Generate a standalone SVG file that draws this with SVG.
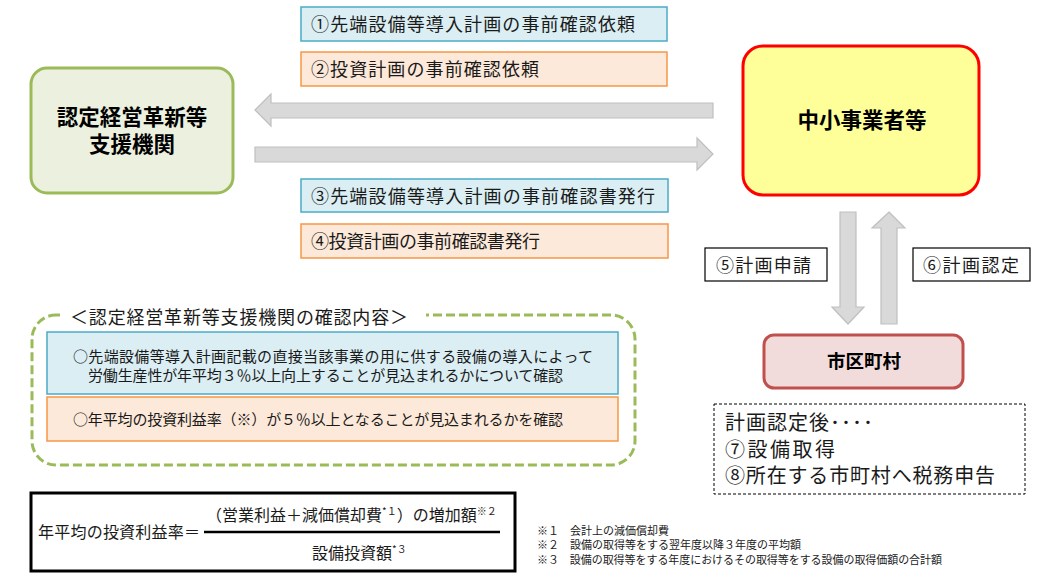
<svg xmlns="http://www.w3.org/2000/svg" width="1055" height="581" viewBox="0 0 1055 581">
<style>
text{font-family:"Noto Sans CJK JP","Noto Sans CJK SC",sans-serif;fill:#1a1a1a}
.b{font-weight:bold;fill:#000}
.blue{fill:#DAEEF3;stroke:#4BACC6;stroke-width:1.5}
.orange{fill:#FDE9D9;stroke:#F79646;stroke-width:1.5}
.arrow{fill:#D9D9D9;stroke:#BFBFBF;stroke-width:1.2}
.lbl{font-size:18px}
.plain{fill:#fff;stroke:#000;stroke-width:1.2}
</style>
<rect width="1055" height="581" fill="#fff"/>

<g id="connectors">
  <polygon class="arrow" points="255,110 271,94 271,103 713,103 713,118 271,118 271,126"/>
  <polygon class="arrow" points="255,147 697,147 697,138 713,154 697,170 697,162 255,162"/>
  <polygon class="arrow" points="840,212 856,212 856,307 864,307 848,324 832,307 840,307"/>
  <polygon class="arrow" points="889,212 905,228 897,228 897,324 881,324 881,228 872,228"/>
</g>

<g id="node-shien">
  <rect x="31" y="68" width="202" height="125" rx="16" fill="#EBF1DE" stroke="#9BBB59" stroke-width="3"/>
  <text class="b" font-size="21.5" text-anchor="middle"><tspan x="132" y="125">認定経営革新等</tspan><tspan x="132" y="152">支援機関</tspan></text>
</g>

<g id="node-chusho">
  <rect x="743" y="46" width="236" height="149" rx="20" fill="#FFFF99" stroke="#FF0000" stroke-width="3"/>
  <text class="b" x="862" y="128" font-size="21.5" text-anchor="middle">中小事業者等</text>
</g>

<g id="node-shiku">
  <rect x="764" y="335" width="199" height="53" rx="10" fill="#F2DCDB" stroke="#C0504D" stroke-width="3"/>
  <text class="b" x="864" y="368" font-size="18.5" text-anchor="middle">市区町村</text>
</g>

<g id="label-1">
  <rect class="blue" x="301" y="7" width="366" height="34"/>
  <text class="lbl" x="311" y="31" textLength="324" lengthAdjust="spacing">①先端設備等導入計画の事前確認依頼</text>
</g>
<g id="label-2">
  <rect class="orange" x="301" y="52" width="366" height="34"/>
  <text class="lbl" x="311" y="76" textLength="228" lengthAdjust="spacing">②投資計画の事前確認依頼</text>
</g>
<g id="label-3">
  <rect class="blue" x="301" y="179" width="367" height="33"/>
  <text class="lbl" x="311" y="203" textLength="344" lengthAdjust="spacing">③先端設備等導入計画の事前確認書発行</text>
</g>
<g id="label-4">
  <rect class="orange" x="301" y="224" width="367" height="34"/>
  <text class="lbl" x="311" y="248" textLength="229" lengthAdjust="spacing">④投資計画の事前確認書発行</text>
</g>

<g id="label-5">
  <rect class="plain" x="705" y="248" width="122" height="33"/>
  <text class="lbl" x="716" y="272" textLength="95" lengthAdjust="spacing">⑤計画申請</text>
</g>
<g id="label-6">
  <rect class="plain" x="913" y="248" width="117" height="33"/>
  <text class="lbl" x="923" y="272" textLength="96" lengthAdjust="spacing">⑥計画認定</text>
</g>

<g id="after-note">
  <rect x="714" y="404" width="311" height="90" fill="none" stroke="#000" stroke-width="1" stroke-dasharray="3,2"/>
  <text font-size="20"><tspan x="725" y="430" textLength="148" lengthAdjust="spacing">計画認定後････</tspan><tspan x="725" y="457" textLength="110" lengthAdjust="spacing">⑦設備取得</tspan><tspan x="725" y="483" textLength="270" lengthAdjust="spacing">⑧所在する市町村へ税務申告</tspan></text>
</g>

<g id="confirm-group">
  <rect x="32" y="315" width="603" height="150" rx="24" fill="none" stroke="#9BBB59" stroke-width="3" stroke-dasharray="9,4"/>
  <rect x="60" y="305" width="366" height="22" fill="#fff"/>
  <text x="70" y="324" font-size="18" textLength="338" lengthAdjust="spacing">＜認定経営革新等支援機関の確認内容＞</text>
  <rect class="blue" x="47" y="332" width="571" height="62"/>
  <text font-size="15"><tspan x="73" y="362" textLength="520" lengthAdjust="spacing">○先端設備等導入計画記載の直接当該事業の用に供する設備の導入によって</tspan><tspan x="88" y="381" textLength="475" lengthAdjust="spacing">労働生産性が年平均３％以上向上することが見込まれるかについて確認</tspan></text>
  <rect class="orange" x="47" y="397" width="571" height="44"/>
  <text x="73" y="425" font-size="15" textLength="490" lengthAdjust="spacing">○年平均の投資利益率（※）が５％以上となることが見込まれるかを確認</text>
</g>

<g id="formula">
  <rect x="31" y="493" width="484" height="78" fill="none" stroke="#000" stroke-width="3"/>
  <text x="38" y="538" font-size="16" textLength="162" lengthAdjust="spacing">年平均の投資利益率＝</text>
  <line x1="204" y1="532" x2="500" y2="532" stroke="#000" stroke-width="2.5"/>
  <text x="206" y="521" font-size="16">（営業利益＋減価償却費<tspan font-size="10" dy="-6">*１</tspan><tspan dy="6">）の増加額</tspan><tspan font-size="10" dy="-6">※２</tspan></text>
  <text x="312" y="559" font-size="16">設備投資額<tspan font-size="10" dy="-6">*３</tspan></text>
</g>

<g id="footnotes">
  <text x="537" y="535" font-size="11">※１　会計上の減価償却費</text>
  <text x="537" y="549" font-size="11">※２　設備の取得等をする翌年度以降３年度の平均額</text>
  <text x="537" y="564" font-size="11" textLength="405" lengthAdjust="spacing">※３　設備の取得等をする年度におけるその取得等をする設備の取得価額の合計額</text>
</g>
</svg>
